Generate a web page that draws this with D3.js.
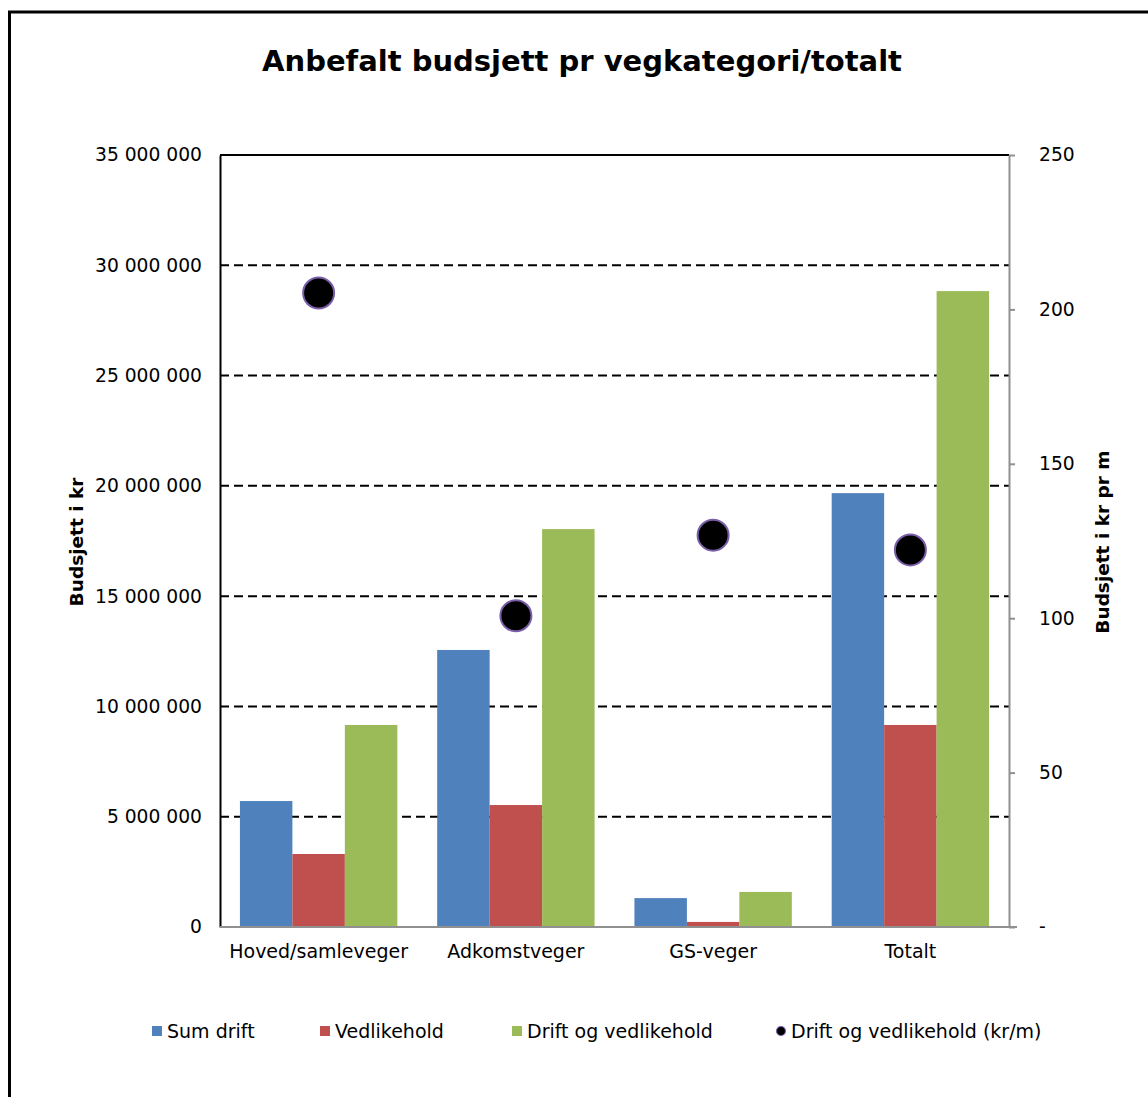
<!DOCTYPE html>
<html>
<head>
<meta charset="utf-8">
<script src="https://cdn.jsdelivr.net/npm/d3@7"></script>
<style>
  body { margin: 0; background: #fff; }
  text { font-family: "DejaVu Sans", Verdana, sans-serif; fill: #000; }
</style>
</head>
<body>
<svg class="chart" width="1148" height="1097"></svg>
<script>
const categories = ["Hoved/samleveger", "Adkomstveger", "GS-veger", "Totalt"]
const seriesNames = ["Sum drift", "Vedlikehold", "Drift og vedlikehold"]
const sumDrift = [5710000, 12560000, 1310000, 19670000]
const vedlikehold = [3310000, 5530000, 230000, 9160000]
const driftOgVedlikehold = [9160000, 18040000, 1590000, 28830000]
const krPrMeter = [205.3, 100.8, 126.9, 122.1]
const leftTicks = [0, 5000000, 10000000, 15000000, 20000000, 25000000, 30000000, 35000000]
const rightTicks = [0, 50, 100, 150, 200, 250]
const colors = ["#4f81bd", "#c0504d", "#9bbb59"]

const svg = d3.select('.chart')
const plotLeft = 220, plotRight = 1009, plotTop = 155, plotBottom = 927
const font = '"DejaVu Sans", Verdana, sans-serif'

// outer frame
svg.append('rect')
    .attr('x', 9.5).attr('y', 12)
    .attr('width', 1200).attr('height', 1200)
    .attr('fill', 'none').attr('stroke', '#000').attr('stroke-width', 3)

svg.append('text')
    .text('Anbefalt budsjett pr vegkategori/totalt')
    .attr('x', 582).attr('y', 71)
    .attr('text-anchor', 'middle')
    .attr('font-size', '29px').attr('font-weight', 'bold')

const x = d3.scaleBand(categories, [plotLeft, plotRight])
const xInner = d3.scaleBand(seriesNames, [0, x.bandwidth()]).paddingOuter(0.38)
const y = d3.scaleLinear([0, 35000000], [plotBottom, plotTop])
const y2 = d3.scaleLinear([0, 250], [plotBottom, plotTop])

// gridlines
svg.append('g')
    .selectAll('line')
    .data(leftTicks.filter(d => d > 0 && d < 35000000))
    .join('line')
    .attr('x1', plotLeft).attr('x2', plotRight)
    .attr('y1', d => y(d)).attr('y2', d => y(d))
    .attr('stroke', '#000').attr('stroke-width', 2)
    .attr('stroke-dasharray', '9,5')

// top border of plot
svg.append('line')
    .attr('x1', plotLeft).attr('x2', plotRight)
    .attr('y1', plotTop).attr('y2', plotTop)
    .attr('stroke', '#000').attr('stroke-width', 2)

const table = categories.map((c, i) => ({
    cat: c,
    values: [sumDrift[i], vedlikehold[i], driftOgVedlikehold[i]]
}))

svg.append('g')
    .selectAll('g')
    .data(table)
    .join('g')
    .attr('transform', d => `translate(${x(d.cat)},0)`)
    .selectAll('rect')
    .data(d => d.values.map((v, j) => ({ name: seriesNames[j], v: v, j: j })))
    .join('rect')
    .attr('x', d => xInner(d.name))
    .attr('width', xInner.bandwidth())
    .attr('y', d => y(d.v))
    .attr('height', d => plotBottom - y(d.v))
    .attr('fill', d => colors[d.j])

// left axis
const yAxis = d3.axisLeft(y)
    .tickValues(leftTicks)
    .tickSize(0)
    .tickPadding(18)
    .tickFormat(d => d3.format(',')(d).replace(/,/g, ' '))
svg.append('g')
    .attr('transform', `translate(${plotLeft},0)`)
    .call(yAxis)
    .call(g => g.select('.domain').attr('stroke', '#000').attr('stroke-width', 2))
    .call(g => g.selectAll('text').attr('font-size', '18.7px').attr('font-family', font).attr('fill', '#000'))

// right axis
const y2Axis = d3.axisRight(y2)
    .tickValues(rightTicks)
    .tickSize(6)
    .tickSizeOuter(0)
    .tickPadding(24)
    .tickFormat(d => d === 0 ? '-' : d)
svg.append('g')
    .attr('transform', `translate(${plotRight},0)`)
    .call(y2Axis)
    .call(g => g.select('.domain').attr('stroke', '#909090').attr('stroke-width', 2))
    .call(g => g.selectAll('.tick line').attr('stroke', '#909090').attr('stroke-width', 2))
    .call(g => g.selectAll('text').attr('font-size', '18.7px').attr('font-family', font).attr('fill', '#000'))

// bottom axis
const xAxis = d3.axisBottom(x).tickSize(0).tickPadding(18)
svg.append('g')
    .attr('transform', `translate(0,${plotBottom})`)
    .call(xAxis)
    .call(g => g.select('.domain').attr('stroke', '#909090').attr('stroke-width', 2).attr('d', `M${plotLeft},0H${plotRight + 8}`))
    .call(g => g.selectAll('text').attr('font-size', '19px').attr('font-family', font).attr('fill', '#000'))

// dots
svg.append('g')
    .selectAll('circle')
    .data(categories)
    .join('circle')
    .attr('cx', d => x(d) + x.bandwidth() / 2)
    .attr('cy', (d, i) => y2(krPrMeter[i]))
    .attr('r', 15.5)
    .attr('fill', '#000')
    .attr('stroke', '#7a5fa8').attr('stroke-width', 2)

// axis titles
svg.append('text')
    .text('Budsjett i kr')
    .attr('transform', 'translate(83,542) rotate(-90)')
    .attr('text-anchor', 'middle')
    .attr('font-size', '18.5px').attr('font-weight', 'bold')

svg.append('text')
    .text('Budsjett i kr pr m')
    .attr('transform', 'translate(1109,542) rotate(-90)')
    .attr('text-anchor', 'middle')
    .attr('font-size', '18.5px').attr('font-weight', 'bold')

// legend
const legendX = [152, 320, 512]
const legend = svg.append('g')
seriesNames.forEach((n, i) => {
    legend.append('rect')
        .attr('x', legendX[i]).attr('y', 1026)
        .attr('width', 10).attr('height', 10)
        .attr('fill', colors[i])
    legend.append('text')
        .text(n)
        .attr('x', legendX[i] + 15).attr('y', 1038)
        .attr('font-size', '19px')
})
legend.append('circle')
    .attr('cx', 781).attr('cy', 1031).attr('r', 4.5)
    .attr('fill', '#000').attr('stroke', '#7a5fa8').attr('stroke-width', 1.2)
legend.append('text')
    .text('Drift og vedlikehold (kr/m)')
    .attr('x', 791).attr('y', 1038)
    .attr('font-size', '19px')
</script>
</body>
</html>
